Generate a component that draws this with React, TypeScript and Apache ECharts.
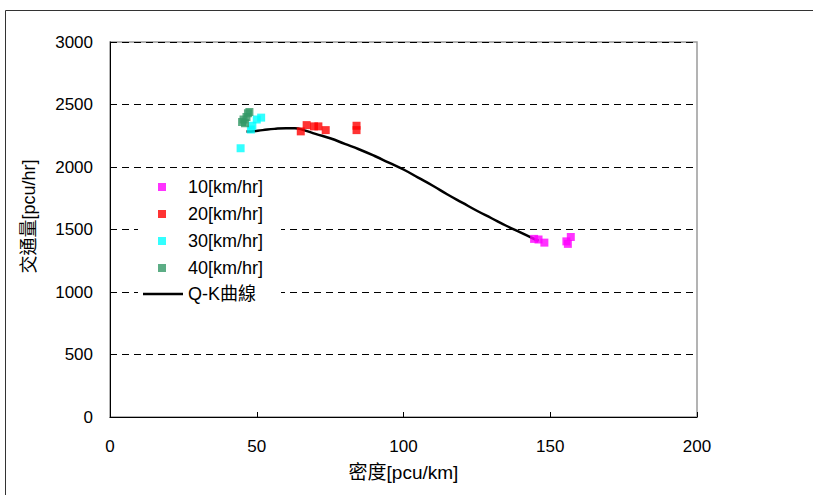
import React, { useEffect, useRef } from "react";
import * as echarts from "echarts";

// Observed (density, flow) pairs grouped by travel speed
const speed10 = [[144.5, 1425], [146, 1420], [148, 1395], [155.5, 1405], [157, 1440], [156, 1385]];
const speed20 = [[65, 2285], [67, 2335], [69.5, 2325], [71, 2325], [73.5, 2295], [84, 2330], [84, 2295]];
const speed30 = [[44.5, 2150], [48, 2300], [48.5, 2330], [50, 2380], [51.5, 2395]];
const speed40 = [[45, 2360], [45.5, 2380], [46.5, 2400], [47, 2430], [47.5, 2440], [46, 2350]];

// Fitted Q-K curve
const qkCurve = [
  [46.5, 2285], [48, 2285], [52, 2295], [56, 2305], [60, 2310], [63, 2310], [66, 2295],
  [70, 2265], [75, 2230], [80, 2185], [85, 2140], [90, 2090], [95, 2035], [100, 1980],
  [105, 1915], [110, 1850], [115, 1780], [120, 1715], [125, 1650], [130, 1590],
  [135, 1530], [140, 1475], [144, 1430], [146, 1410],
];

const seriesNames = ["10[km/hr]", "20[km/hr]", "30[km/hr]", "40[km/hr]"];
const seriesColors = ["#FF00FF", "#FF0000", "#00FFFF", "#339966"];
const curveName = "Q-K曲線";

const xTicks = { min: 0, max: 200, interval: 50 };
const yTicks = { min: 0, max: 3000, interval: 500 };

const latin = "'Liberation Sans', Arial, sans-serif";
const cjk = "'Liberation Sans', 'Noto Sans CJK TC', sans-serif";

export default function App() {
  const ref = useRef<HTMLDivElement>(null);

  useEffect(() => {
    if (!ref.current) return;
    const chart = echarts.init(ref.current, undefined, { renderer: "svg" });
    const scatterData = [speed10, speed20, speed30, speed40];

    chart.setOption({
      animation: false,
      backgroundColor: "#ffffff",
      grid: {
        left: 110,
        right: 116,
        top: 42,
        bottom: 78,
        show: true,
        borderColor: "#9a9a9a",
        borderWidth: 1.5,
      },
      xAxis: {
        type: "value",
        ...xTicks,
        name: "密度[pcu/km]",
        nameLocation: "middle",
        nameGap: 46,
        nameTextStyle: { color: "#000", fontSize: 19, fontFamily: cjk },
        axisLine: { show: true, lineStyle: { color: "#000", width: 1 } },
        axisTick: { show: true, inside: true, length: 5, lineStyle: { color: "#000" } },
        axisLabel: { color: "#000", fontSize: 17, fontFamily: latin, margin: 21 },
        splitLine: { show: false },
      },
      yAxis: {
        type: "value",
        ...yTicks,
        name: "交通量[pcu/hr]",
        nameLocation: "middle",
        nameGap: 72,
        nameTextStyle: { color: "#000", fontSize: 18, fontFamily: cjk, padding: [0, 0, 0, 26] },
        axisLine: { show: true, lineStyle: { color: "#000", width: 1 } },
        axisTick: { show: true, inside: true, length: 5, lineStyle: { color: "#000" } },
        axisLabel: {
          color: "#000",
          fontSize: 17,
          fontFamily: latin,
          margin: 17,
          formatter: (v: number) => String(v),
        },
        splitLine: {
          show: true,
          lineStyle: { color: "#000", width: 1, type: [7, 5] },
        },
      },
      legend: [
        {
          data: seriesNames,
          orient: "vertical",
          left: 158,
          top: 178,
          padding: 0,
          itemWidth: 8,
          itemHeight: 8,
          itemGap: 9,
          textStyle: {
            color: "#000",
            fontSize: 18,
            lineHeight: 18,
            fontFamily: latin,
            padding: [0, 0, 0, 17],
          },
        },
        {
          // plain bar icon so the curve entry shows a line without a marker
          data: [{ name: curveName, icon: "rect" }],
          orient: "vertical",
          left: 143,
          top: 285,
          padding: 0,
          itemWidth: 40,
          itemHeight: 2.5,
          symbolKeepAspect: false,
          textStyle: { color: "#000", fontSize: 18, lineHeight: 18, fontFamily: cjk },
        },
      ],
      graphic: [
        // white panel behind the legend entries, hiding the grid lines there
        {
          type: "rect",
          z: 1,
          shape: { x: 138, y: 174, width: 143, height: 132 },
          style: { fill: "#ffffff" },
        },
        { type: "line", shape: { x1: 5.5, y1: 10.5, x2: 813, y2: 10.5 }, style: { stroke: "#333", lineWidth: 1 } },
        { type: "line", shape: { x1: 5.5, y1: 10.5, x2: 5.5, y2: 495 }, style: { stroke: "#333", lineWidth: 1 } },
      ],
      series: [
        ...seriesNames.map((name, i) => ({
          name,
          type: "scatter",
          symbol: "rect",
          symbolSize: 8,
          z: 3,
          itemStyle: { color: seriesColors[i] },
          data: scatterData[i],
        })),
        {
          name: curveName,
          type: "line",
          smooth: true,
          showSymbol: false,
          symbol: "none",
          z: 2,
          lineStyle: { color: "#000", width: 2.5 },
          itemStyle: { color: "#000" },
          data: qkCurve,
        },
      ],
    });

    return () => chart.dispose();
  }, []);

  return (
    <div
      ref={ref}
      style={{ position: "absolute", left: 0, top: 0, width: 813, height: 495 }}
    />
  );
}
